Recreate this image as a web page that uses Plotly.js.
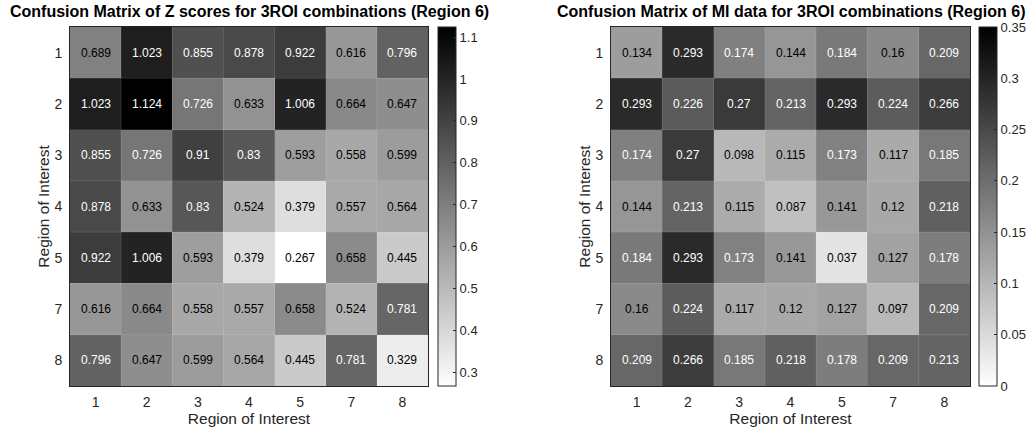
<!DOCTYPE html>
<html>
<head>
<meta charset="utf-8">
<script src="https://cdn.plot.ly/plotly-3.0.1.min.js"></script>
<style>html,body{margin:0;padding:0;background:#fff;}#chart{width:1036px;height:434px;}</style>
</head>
<body>
<div id="chart"></div>
<script>
// Region labels (rows top->bottom, columns left->right)
const regions = ['1', '2', '3', '4', '5', '7', '8'];

// Z scores confusion matrix (Region 6)
const zScores = [
  [0.689, 1.023, 0.855, 0.878, 0.922, 0.616, 0.796],
  [1.023, 1.124, 0.726, 0.633, 1.006, 0.664, 0.647],
  [0.855, 0.726, 0.91,  0.83,  0.593, 0.558, 0.599],
  [0.878, 0.633, 0.83,  0.524, 0.379, 0.557, 0.564],
  [0.922, 1.006, 0.593, 0.379, 0.267, 0.658, 0.445],
  [0.616, 0.664, 0.558, 0.557, 0.658, 0.524, 0.781],
  [0.796, 0.647, 0.599, 0.564, 0.445, 0.781, 0.329]
];

// MI data confusion matrix (Region 6)
const miData = [
  [0.134, 0.293, 0.174, 0.144, 0.184, 0.16,  0.209],
  [0.293, 0.226, 0.27,  0.213, 0.293, 0.224, 0.266],
  [0.174, 0.27,  0.098, 0.115, 0.173, 0.117, 0.185],
  [0.144, 0.213, 0.115, 0.087, 0.141, 0.12,  0.218],
  [0.184, 0.293, 0.173, 0.141, 0.037, 0.127, 0.178],
  [0.16,  0.224, 0.117, 0.12,  0.127, 0.097, 0.209],
  [0.209, 0.266, 0.185, 0.218, 0.178, 0.209, 0.213]
];

// Colorbar ticks
const zTicks = [0.3, 0.4, 0.5, 0.6, 0.7, 0.8, 0.9, 1, 1.1];
const zTickText = ['0.3', '0.4', '0.5', '0.6', '0.7', '0.8', '0.9', '1', '1.1'];
const miTicks = [0, 0.05, 0.1, 0.15, 0.2, 0.25, 0.3, 0.35];
const miTickText = ['0', '0.05', '0.1', '0.15', '0.2', '0.25', '0.3', '0.35'];

const zRange = [0.267, 1.124];
const miRange = [0, 0.35];

const FONT = 'Liberation Sans, Arial, Helvetica, sans-serif';
const grayScale = [[0, '#ffffff'], [1, '#000000']];

function flat(a) { return [].concat.apply([], a); }

function heat(z, xa, ya, range, tv, tt, cbx) {
  return {
    type: 'heatmap', z: z, x: regions, y: regions,
    xaxis: xa, yaxis: ya,
    zmin: range[0], zmax: range[1],
    colorscale: grayScale,
    hoverinfo: 'z',
    colorbar: {
      x: cbx, xanchor: 'left', xref: 'paper',
      y: 1 - 206.5 / 434, yanchor: 'middle', yref: 'paper',
      len: 359 / 434, lenmode: 'fraction',
      thickness: 18, thicknessmode: 'pixels',
      xpad: 0, ypad: 0,
      outlinewidth: 1, outlinecolor: '#262626',
      tickmode: 'array', tickvals: tv, ticktext: tt,
      ticks: 'inside', ticklen: 3, tickcolor: '#262626',
      tickfont: { family: FONT, size: 13, color: '#262626' }
    }
  };
}

const traces = [
  heat(zScores, 'x', 'y', zRange, zTicks, zTickText, 438 / 1036),
  heat(miData, 'x2', 'y2', miRange, miTicks, miTickText, 979 / 1036)
];

const annotations = [];
const shapes = [];
function addCells(z, xr, yr, thresh) {
  z.forEach(function (row, i) {
    row.forEach(function (v, j) {
      annotations.push({
        x: j, y: i, xref: xr, yref: yr,
        text: String(v), showarrow: false,
        font: { family: FONT, size: 12, color: v > thresh ? '#ffffff' : '#000000' }
      });
    });
  });
  for (let k = 1; k < regions.length; k++) {
    shapes.push({ type: 'line', xref: xr, yref: yr + ' domain', x0: k - 0.5, x1: k - 0.5, y0: 0, y1: 1,
      line: { color: 'rgba(255,255,255,0.12)', width: 1 } });
    shapes.push({ type: 'line', xref: xr + ' domain', yref: yr, y0: k - 0.5, y1: k - 0.5, x0: 0, x1: 1,
      line: { color: 'rgba(255,255,255,0.12)', width: 1 } });
  }
}
const zVals = flat(zScores), miVals = flat(miData);
addCells(zScores, 'x', 'y', (Math.min.apply(null, zVals) + Math.max.apply(null, zVals)) / 2);
addCells(miData, 'x2', 'y2', (Math.min.apply(null, miVals) + Math.max.apply(null, miVals)) / 2);

function xax(dom, anchor) {
  return {
    domain: dom, anchor: anchor, type: 'category',
    range: [-0.5, regions.length - 0.5],
    showgrid: false, zeroline: false, ticks: '',
    showline: true, mirror: true, linecolor: '#262626', linewidth: 1,
    ticklabelstandoff: 3,
    tickfont: { family: FONT, size: 14, color: '#262626' },
    title: { text: 'Region of Interest', font: { family: FONT, size: 15.5, color: '#262626' }, standoff: 4 }
  };
}
function yax(dom, anchor) {
  return {
    domain: dom, anchor: anchor, type: 'category',
    range: [regions.length - 0.5, -0.5],
    showgrid: false, zeroline: false, ticks: '',
    showline: true, mirror: true, linecolor: '#262626', linewidth: 1,
    ticklabelstandoff: 4,
    tickfont: { family: FONT, size: 14, color: '#262626' },
    title: { text: 'Region of Interest', font: { family: FONT, size: 15.5, color: '#262626' }, standoff: 0 }
  };
}

const yDom = [1 - 386 / 434, 1 - 27 / 434];
annotations.push({
  xref: 'paper', yref: 'paper', x: (70 + 428) / 2 / 1036, y: 1 - 12 / 434,
  text: '<b>Confusion Matrix of Z scores for 3ROI combinations (Region 6)</b>',
  showarrow: false, xanchor: 'center', yanchor: 'middle',
  font: { family: FONT, size: 16, color: '#000000' }
});
annotations.push({
  xref: 'paper', yref: 'paper', x: (611 + 970) / 2 / 1036, y: 1 - 12 / 434,
  text: '<b>Confusion Matrix of MI data for 3ROI combinations (Region 6)</b>',
  showarrow: false, xanchor: 'center', yanchor: 'middle',
  font: { family: FONT, size: 16, color: '#000000' }
});

const layout = {
  width: 1036, height: 434,
  margin: { l: 0, r: 0, t: 0, b: 0 },
  paper_bgcolor: '#ffffff', plot_bgcolor: '#ffffff',
  showlegend: false,
  xaxis: xax([70 / 1036, 428 / 1036], 'y'),
  yaxis: yax(yDom, 'x'),
  xaxis2: xax([611 / 1036, 970 / 1036], 'y2'),
  yaxis2: yax(yDom, 'x2'),
  annotations: annotations,
  shapes: shapes
};

Plotly.newPlot('chart', traces, layout, { displayModeBar: false, staticPlot: true });
</script>
</body>
</html>
